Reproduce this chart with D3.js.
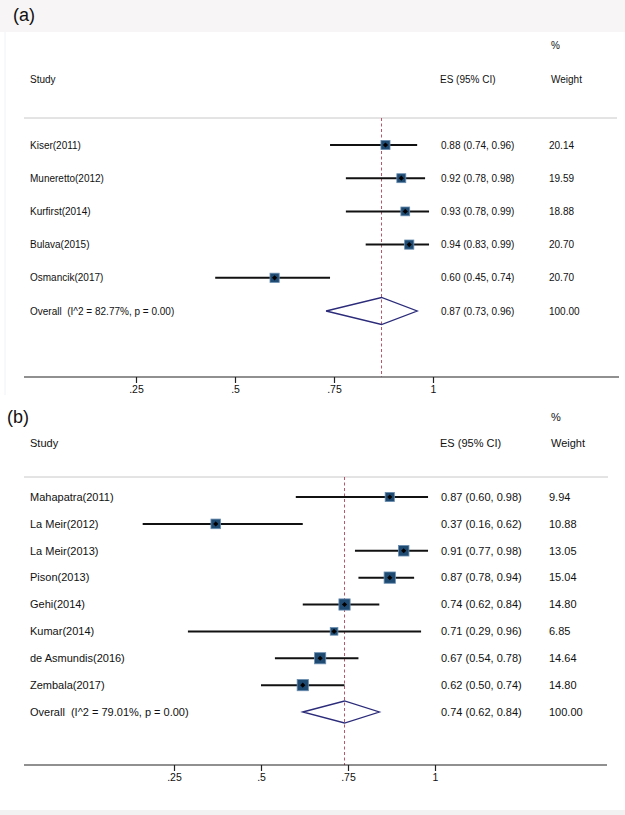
<!DOCTYPE html>
<html>
<head>
  <meta charset="utf-8">
  <script src="https://cdn.jsdelivr.net/npm/d3@7"></script>
  <style type="text/css">
    body { margin: 0; background: #fff; }
    text { font-family: "Liberation Sans", Arial, Helvetica, sans-serif; fill: #111; }
    .ovl { white-space: pre; }
  </style>
</head>
<body>
<script type="text/javascript">
  // Panel (a)
  var studiesA = ["Kiser(2011)", "Muneretto(2012)", "Kurfirst(2014)", "Bulava(2015)", "Osmancik(2017)"];
  var esA = [0.88, 0.92, 0.93, 0.94, 0.60];
  var lowA = [0.74, 0.78, 0.78, 0.83, 0.45];
  var highA = [0.96, 0.98, 0.99, 0.99, 0.74];
  var weightA = ["20.14", "19.59", "18.88", "20.70", "20.70"];
  var overallA = {es: 0.87, low: 0.73, high: 0.96, weight: "100.00", label: "Overall  (I^2 = 82.77%, p = 0.00)"};

  // Panel (b)
  var studiesB = ["Mahapatra(2011)", "La Meir(2012)", "La Meir(2013)", "Pison(2013)", "Gehi(2014)",
                  "Kumar(2014)", "de Asmundis(2016)", "Zembala(2017)"];
  var esB = [0.87, 0.37, 0.91, 0.87, 0.74, 0.71, 0.67, 0.62];
  var lowB = [0.60, 0.16, 0.77, 0.78, 0.62, 0.29, 0.54, 0.50];
  var highB = [0.98, 0.62, 0.98, 0.94, 0.84, 0.96, 0.78, 0.74];
  var weightB = ["9.94", "10.88", "13.05", "15.04", "14.80", "6.85", "14.64", "14.80"];
  var overallB = {es: 0.74, low: 0.62, high: 0.84, weight: "100.00", label: "Overall  (I^2 = 79.01%, p = 0.00)"};

  var tickVals = [0.25, 0.5, 0.75, 1];
  var tickLabels = [".25", ".5", ".75", "1"];

  var W = 625, H = 815;
  var svg = d3.select("body").append("svg")
      .attr("width", W)
      .attr("height", H);

  // light bands at the top and bottom of the image
  svg.append("rect").attr("x", 0).attr("y", 0).attr("width", W).attr("height", 32).attr("fill", "#f7f5f5");
  svg.append("rect").attr("x", 0).attr("y", 810).attr("width", W).attr("height", 5).attr("fill", "#f2f2f2");
  svg.append("line").attr("x1", 5).attr("x2", 5).attr("y1", 32).attr("y2", 395)
     .attr("stroke", "#eef2f4").attr("stroke-width", 1);

  function drawPanel(p) {
    var g = svg.append("g");
    var x = d3.scaleLinear().domain([0, 1]).range([p.x0, p.x1]);
    var rows = p.studies.concat(["__overall"]);
    var y = d3.scalePoint().domain(rows).range([p.rowTop, p.rowBottom]);
    var wNum = p.weights.map(Number);
    var side = d3.scaleSqrt().domain([0, d3.max(wNum)]).range([0, p.maxBox]);
    var fs = p.fontSize;

    // panel letter
    g.append("text").attr("x", p.letterX).attr("y", p.letterY).attr("dy", "0.35em")
      .attr("font-size", 18).text(p.letter);

    // headers
    g.append("text").attr("x", 551).attr("y", p.pctY).attr("dy", "0.35em")
      .attr("font-size", fs).text("%");
    g.append("text").attr("x", 30).attr("y", p.headY).attr("dy", "0.35em")
      .attr("font-size", fs).text("Study");
    g.append("text").attr("x", 440).attr("y", p.headY).attr("dy", "0.35em")
      .attr("font-size", fs).text("ES (95% CI)");
    g.append("text").attr("x", 551).attr("y", p.headY).attr("dy", "0.35em")
      .attr("font-size", fs).text("Weight");

    g.append("line").attr("x1", p.lineL).attr("x2", p.lineR)
      .attr("y1", p.ruleY).attr("y2", p.ruleY)
      .attr("stroke", "#c8c8c8").attr("stroke-width", 1);

    // reference (overall) dashed line
    g.append("line")
      .attr("x1", x(p.overall.es)).attr("x2", x(p.overall.es))
      .attr("y1", p.ruleY).attr("y2", p.axisY)
      .attr("stroke", "#b4566c").attr("stroke-width", 1)
      .attr("stroke-dasharray", "3,2.5");

    var data = p.studies.map(function(s, i) {
      return {name: s, es: p.es[i], low: p.low[i], high: p.high[i], w: p.weights[i], wn: wNum[i]};
    });

    var row = g.selectAll(".row").data(data).enter().append("g").attr("class", "row");

    row.append("line")
      .attr("x1", function(d) { return x(d.low); })
      .attr("x2", function(d) { return x(d.high); })
      .attr("y1", function(d) { return y(d.name); })
      .attr("y2", function(d) { return y(d.name); })
      .attr("stroke", "#111").attr("stroke-width", 2);

    row.append("rect")
      .attr("x", function(d) { return x(d.es) - side(d.wn) / 2; })
      .attr("y", function(d) { return y(d.name) - side(d.wn) / 2; })
      .attr("width", function(d) { return side(d.wn); })
      .attr("height", function(d) { return side(d.wn); })
      .attr("fill", "#1f4b73").attr("stroke", "#6a8db0").attr("stroke-width", 0.8);

    row.append("path")
      .attr("d", function(d) {
        var cx = x(d.es), cy = y(d.name), r = 2.6;
        return "M" + cx + "," + (cy - r) + "L" + (cx + r) + "," + cy + "L" + cx + "," + (cy + r) + "L" + (cx - r) + "," + cy + "Z";
      })
      .attr("fill", "#000");

    row.append("text").attr("x", 30)
      .attr("y", function(d) { return y(d.name); }).attr("dy", "0.35em")
      .attr("font-size", fs).text(function(d) { return d.name; });
    row.append("text").attr("x", 441)
      .attr("y", function(d) { return y(d.name); }).attr("dy", "0.35em")
      .attr("font-size", fs)
      .text(function(d) { return d.es.toFixed(2) + " (" + d.low.toFixed(2) + ", " + d.high.toFixed(2) + ")"; });
    row.append("text").attr("x", 549)
      .attr("y", function(d) { return y(d.name); }).attr("dy", "0.35em")
      .attr("font-size", fs).text(function(d) { return d.w; });

    // overall diamond
    var oy = y("__overall"), o = p.overall;
    g.append("path")
      .attr("d", "M" + x(o.low) + "," + oy + "L" + x(o.es) + "," + (oy - p.diaH) +
                 "L" + x(o.high) + "," + oy + "L" + x(o.es) + "," + (oy + p.diaH) + "Z")
      .attr("fill", "none").attr("stroke", "#2b2b7a").attr("stroke-width", 1.3);
    g.append("text").attr("class", "ovl").attr("x", 30).attr("y", oy).attr("dy", "0.35em")
      .attr("font-size", fs).text(o.label);
    g.append("text").attr("x", 441).attr("y", oy).attr("dy", "0.35em")
      .attr("font-size", fs)
      .text(o.es.toFixed(2) + " (" + o.low.toFixed(2) + ", " + o.high.toFixed(2) + ")");
    g.append("text").attr("x", 549).attr("y", oy).attr("dy", "0.35em")
      .attr("font-size", fs).text(o.weight);

    // x axis
    var axis = g.append("g").attr("transform", "translate(0," + p.axisY + ")");
    axis.append("line").attr("x1", p.lineL).attr("x2", p.axisR)
      .attr("stroke", "#222").attr("stroke-width", 1.2);
    axis.call(d3.axisBottom(x).tickValues(tickVals).tickSize(6).tickPadding(3)
        .tickFormat(function(d, i) { return tickLabels[i]; }));
    axis.select(".domain").remove();
    axis.selectAll(".tick line").attr("stroke", "#222").attr("stroke-width", 1.2);
    axis.selectAll(".tick text").attr("font-size", 10.5)
      .attr("font-family", "Liberation Sans, Arial, sans-serif").attr("fill", "#111");
  }

  drawPanel({
    letter: "(a)", letterX: 13, letterY: 15,
    studies: studiesA, es: esA, low: lowA, high: highA, weights: weightA, overall: overallA,
    x0: 37, x1: 433, rowTop: 145, rowBottom: 311,
    pctY: 45, headY: 79, ruleY: 118, axisY: 377,
    lineL: 24, lineR: 617, axisR: 619,
    maxBox: 9.2, diaH: 13.5, fontSize: 10
  });

  drawPanel({
    letter: "(b)", letterX: 7, letterY: 417,
    studies: studiesB, es: esB, low: lowB, high: highB, weights: weightB, overall: overallB,
    x0: 87, x1: 435, rowTop: 497, rowBottom: 712,
    pctY: 417, headY: 443, ruleY: 477, axisY: 765,
    lineL: 24, lineR: 608, axisR: 607,
    maxBox: 11.3, diaH: 11, fontSize: 11
  });
</script>
</body>
</html>
